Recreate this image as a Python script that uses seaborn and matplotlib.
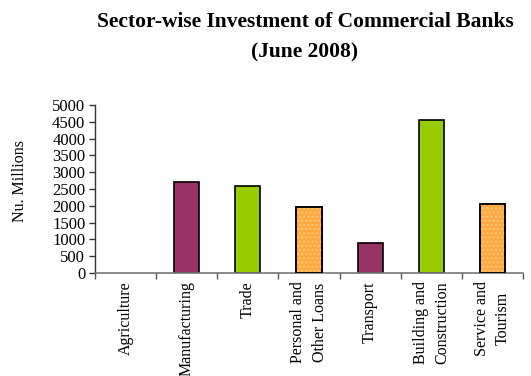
import matplotlib
matplotlib.use("Agg")
import matplotlib.pyplot as plt
import seaborn as sns
import pandas as pd
import numpy as np

sectors = ["Agriculture", "Manufacturing", "Trade", "Personal and\nOther Loans",
           "Transport", "Building and\nConstruction", "Service and\nTourism"]
investment = [0, 2700, 2600, 1950, 900, 4550, 2050]
bar_colors = ["#993366", "#993366", "#99CC00", "#FFA940", "#993366", "#99CC00", "#FFA940"]
y_ticks = [0, 500, 1000, 1500, 2000, 2500, 3000, 3500, 4000, 4500, 5000]

sns.set_theme(style="white")
plt.rcParams["font.family"] = ["Liberation Serif", "DejaVu Serif"]
plt.rcParams["text.color"] = "black"
plt.rcParams["xtick.labelcolor"] = "black"
plt.rcParams["ytick.labelcolor"] = "black"
plt.rcParams["axes.labelcolor"] = "black"

df = pd.DataFrame({"sector": sectors, "value": investment})

fig = plt.figure(figsize=(5.31, 3.76), dpi=100)
ax = fig.add_axes([95 / 531, 1 - 273 / 376, (523 - 95) / 531, (273 - 105) / 376])

sns.barplot(data=df, x="sector", y="value", hue="sector", palette=bar_colors,
            legend=False, width=0.41, edgecolor="black", linewidth=1.2,
            saturation=1, ax=ax)

# zero-height bars get no outline
for patch in ax.patches:
    if patch.get_height() == 0:
        patch.set_linewidth(0)

# dotted texture on the orange bars
for patch, col in zip(list(ax.patches), bar_colors):
    if col == "#FFA940":
        x, y = patch.get_x(), patch.get_y()
        w, h = patch.get_width(), patch.get_height()
        ax.bar(x + w / 2, h, width=w, bottom=y, facecolor="none",
               edgecolor="#FFC878", hatch="....", linewidth=0, zorder=2.5)
        ax.bar(x + w / 2, h, width=w, bottom=y, facecolor="none",
               edgecolor="black", linewidth=1.2, zorder=2.6)

ax.set_xlim(-0.5, len(sectors) - 0.5)
ax.set_ylim(0, 5000)
ax.set_yticks(y_ticks)
ax.set_yticklabels([str(t) for t in y_ticks], fontsize=12)
ax.tick_params(axis="y", direction="out", length=4, width=1, color="#333333",
               left=True, pad=3)

# category labels centred on bars, tick marks on category boundaries
ax.set_xticks(range(len(sectors)))
ax.set_xticklabels(sectors, rotation=90, fontsize=11.5, va="top", ha="center",
                   multialignment="center", linespacing=1.45)
ax.tick_params(axis="x", which="major", length=0, pad=6)
ax.set_xticks(np.arange(-0.5, len(sectors), 1), minor=True)
ax.tick_params(axis="x", which="minor", direction="out", length=4, width=1,
               color="#555555", bottom=True)

ax.set_xlabel("")
ax.set_ylabel("")
fig.text(20 / 531, 1 - 181 / 376, "Nu. Millions", rotation=90,
         ha="center", va="center", fontsize=11.5)

for side in ["top", "right"]:
    ax.spines[side].set_visible(False)
ax.spines["left"].set_color("#333333")
ax.spines["bottom"].set_color("#777777")
ax.spines["left"].set_linewidth(1)
ax.spines["bottom"].set_linewidth(1.2)

fig.text(305 / 531, 1 - 22 / 376, "Sector-wise Investment of Commercial Banks",
         ha="center", va="center", fontsize=15.5, fontweight="bold")
fig.text(305 / 531, 1 - 52 / 376, "(June 2008)",
         ha="center", va="center", fontsize=15.5, fontweight="bold")

fig.savefig("out.png", dpi=100)
